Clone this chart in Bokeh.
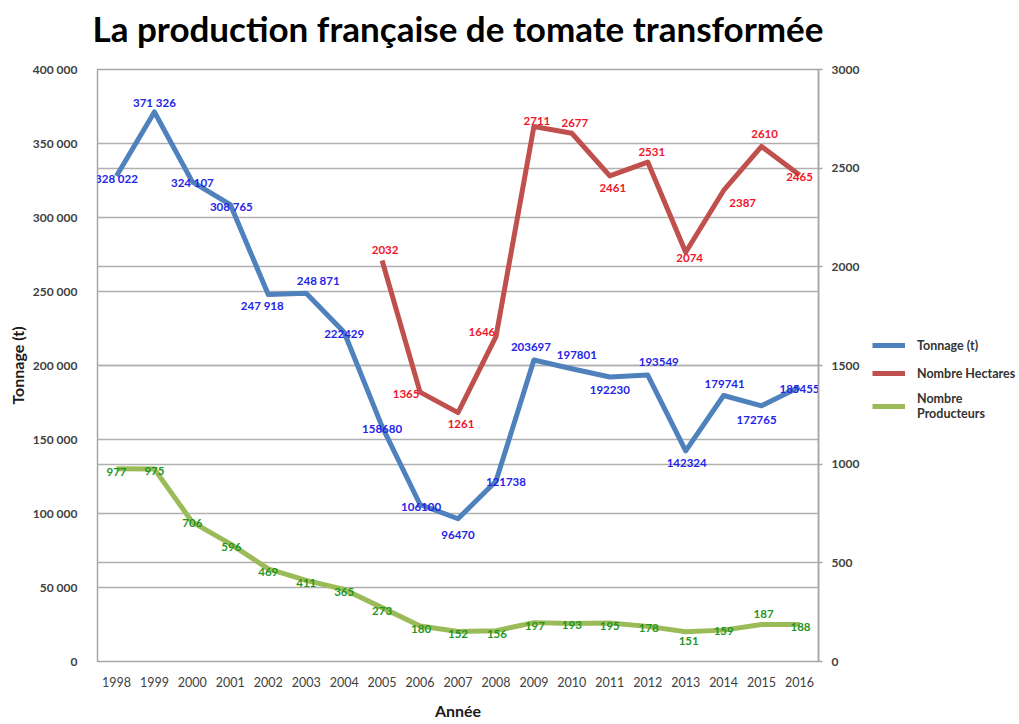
from bokeh.plotting import figure
from bokeh.layouts import row
from bokeh.models import (Range1d, LinearAxis, FixedTicker, Grid, Legend, LegendItem,
                          ColumnDataSource, Title)
from bokeh.core.properties import value
from bokeh.embed import file_html
from bokeh.resources import INLINE

# ---------------- data ----------------
years = [1998, 1999, 2000, 2001, 2002, 2003, 2004, 2005, 2006, 2007,
         2008, 2009, 2010, 2011, 2012, 2013, 2014, 2015, 2016]
tonnage = [328022, 371326, 324107, 308765, 247918, 248871, 222429, 158680, 106100, 96470,
           121738, 203697, 197801, 192230, 193549, 142324, 179741, 172765, 185455]
tonnage_labels = ["328 022", "371 326", "324 107", "308 765", "247 918", "248 871", "222429",
                  "158680", "106100", "96470", "121738", "203697", "197801", "192230",
                  "193549", "142324", "179741", "172765", "185455"]
hectare_years = [2005, 2006, 2007, 2008, 2009, 2010, 2011, 2012, 2013, 2014, 2015, 2016]
hectares = [2032, 1365, 1261, 1646, 2711, 2677, 2461, 2531, 2074, 2387, 2610, 2465]
producteurs = [977, 975, 706, 596, 469, 411, 365, 273, 180, 152,
               156, 197, 193, 195, 178, 151, 159, 187, 188]

left_ticks = [0, 50000, 100000, 150000, 200000, 250000, 300000, 350000, 400000]
left_tick_labels = ["0", "50 000", "100 000", "150 000", "200 000", "250 000",
                    "300 000", "350 000", "400 000"]
right_ticks = [0, 500, 1000, 1500, 2000, 2500, 3000]
series_names = ["Tonnage (t)", "Nombre Hectares", "Nombre\nProducteurs"]
title_text = "La production française de tomate transformée"

# label nudges (screen px)
ton_dx = [0, 0, 0, 1, -6, 12, 0, 0, 1, 0, 10, -3, 5, 0, 11, 1, 1, -5, 0]
ton_dy = [2, -9, 1, 2, 11, -13, 2, 2, 3, 16, 1, -13, -14, 13, -13, 12, -11, 14, 2]
hec_dx = [3, -14, 3, -14, 3, 3, 3, 4, 4, 19, 3, 0]
hec_dy = [-11, 2, 11, -5, -6, -10, 12, -10, 6, 13, -12, 2]
pro_dx = [0, 0, 0, 1, 0, 0, 0, 0, 1, 0, 1, 1, 0, 0, 1, 3, 0, 2, 1]
pro_dy = [3, 2, 1, 3, 3, 3, 3, 3, 3, 2, 3, 3, 2, 3, 2, 9, 1, -11, 3]

BLUE, RED, GREEN = "#4F81BD", "#C0504D", "#9BBB59"
BLUE_T, RED_T, GREEN_T = "#2424E8", "#F0152A", "#1F961F"
FONT = "Lato"

W_MAIN, H = 868, 724
p = figure(width=W_MAIN, height=H, output_backend="svg", toolbar_location=None,
           x_range=Range1d(1997.5, 2016.5), y_range=Range1d(0, 400000),
           min_border_left=97, min_border_right=50, min_border_top=69, min_border_bottom=63)

# title: a thin spacer next to the frame, then the real title above it
p.title = None
p.add_layout(Title(text=" ", text_font_size="1px", standoff=18), "above")
p.add_layout(Title(text=title_text, text_font=FONT, text_font_size="35px",
                   text_font_style="bold", text_color="#000000", align="center",
                   standoff=0), "above")

p.extra_y_ranges = {"right": Range1d(0, 3000)}

p.outline_line_color = "#A6A6A6"
p.outline_line_width = 1.5
p.background_fill_color = "white"
p.border_fill_color = "white"

# grids
p.xgrid.visible = False
p.ygrid.ticker = FixedTicker(ticks=left_ticks)
p.ygrid.grid_line_color = "#B0B0B0"
p.ygrid.grid_line_width = 1.5
rgrid = Grid(dimension=1, ticker=FixedTicker(ticks=right_ticks), y_range_name="right",
             grid_line_color="#B0B0B0", grid_line_width=1.5)
p.add_layout(rgrid)

# x axis
xa = p.xaxis[0]
xa.ticker = FixedTicker(ticks=years)
xa.axis_line_color = None
xa.major_tick_line_color = None
xa.minor_tick_line_color = None
xa.major_label_standoff = 9
xa.major_label_text_font = FONT
xa.major_label_text_font_size = "12.5px"
xa.major_label_text_color = "#404040"
xa.axis_label = "Année"
xa.axis_label_text_font = FONT
xa.axis_label_text_font_size = "16px"
xa.axis_label_text_font_style = "bold"
xa.axis_label_text_color = "#1A1A1A"
xa.axis_label_standoff = 11

# left axis
ya = p.yaxis[0]
ya.ticker = FixedTicker(ticks=left_ticks)
ya.major_label_overrides = {t: l for t, l in zip(left_ticks, left_tick_labels)}
ya.axis_line_color = None
ya.major_tick_line_color = None
ya.minor_tick_line_color = None
ya.major_label_standoff = 14
ya.major_label_text_font = FONT
ya.major_label_text_font_size = "12px"
ya.major_label_text_font_style = "bold"
ya.major_label_text_color = "#404040"
ya.axis_label = "Tonnage (t)"
ya.axis_label_text_font = FONT
ya.axis_label_text_font_size = "16px"
ya.axis_label_text_font_style = "bold"
ya.axis_label_text_color = "#1A1A1A"
ya.axis_label_standoff = 3

# right axis
ra = LinearAxis(y_range_name="right", ticker=FixedTicker(ticks=right_ticks))
ra.axis_line_color = "#A6A6A6"
ra.axis_line_width = 1.5
ra.major_tick_line_color = "#A6A6A6"
ra.major_tick_line_width = 1.5
ra.major_tick_in = 0
ra.major_tick_out = 4
ra.minor_tick_line_color = None
ra.major_label_standoff = 9
ra.major_label_text_font = FONT
ra.major_label_text_font_size = "12px"
ra.major_label_text_font_style = "bold"
ra.major_label_text_color = "#404040"
p.add_layout(ra, "right")

# lines
p.line(years, tonnage, line_color=BLUE, line_width=5, line_join="round")
p.line(hectare_years, hectares, line_color=RED, line_width=5, line_join="round",
       y_range_name="right")
p.line(years, producteurs, line_color=GREEN, line_width=5, line_join="round",
       y_range_name="right")

# data labels
src_t = ColumnDataSource(dict(x=years, y=tonnage, t=tonnage_labels, dx=ton_dx, dy=ton_dy))
p.text(x="x", y="y", text="t", x_offset="dx", y_offset="dy", source=src_t,
       text_align="center", text_baseline="middle", text_font=value(FONT),
       text_font_size="11.5px", text_font_style="bold", text_color=BLUE_T)
src_h = ColumnDataSource(dict(x=hectare_years, y=hectares, t=[str(v) for v in hectares],
                              dx=hec_dx, dy=hec_dy))
p.text(x="x", y="y", text="t", x_offset="dx", y_offset="dy", source=src_h,
       y_range_name="right",
       text_align="center", text_baseline="middle", text_font=value(FONT),
       text_font_size="11.5px", text_font_style="bold", text_color=RED_T)
src_p = ColumnDataSource(dict(x=years, y=producteurs, t=[str(v) for v in producteurs],
                              dx=pro_dx, dy=pro_dy))
p.text(x="x", y="y", text="t", x_offset="dx", y_offset="dy", source=src_p,
       y_range_name="right",
       text_align="center", text_baseline="middle", text_font=value(FONT),
       text_font_size="11.5px", text_font_style="bold", text_color=GREEN_T)

# legend panel (separate figure to the right); its lines lie outside its view
pl = figure(width=151, height=H, output_backend="svg", toolbar_location=None,
            x_axis_type=None, y_axis_type=None, x_range=Range1d(0, 1), y_range=Range1d(0, 1),
            min_border=0)
pl.outline_line_color = None
pl.xgrid.visible = False
pl.ygrid.visible = False
lr = [pl.line(years, tonnage, line_color=BLUE, line_width=5),
      pl.line(hectare_years, hectares, line_color=RED, line_width=5),
      pl.line(years, producteurs, line_color=GREEN, line_width=5)]
legend = Legend(items=[LegendItem(label=n, renderers=[r]) for n, r in zip(series_names, lr)],
                location=(4, 240), orientation="vertical")
legend.glyph_width = 33
legend.glyph_height = 20
legend.label_standoff = 12
legend.label_text_font = FONT
legend.label_text_font_size = "12.5px"
legend.label_text_font_style = "bold"
legend.label_text_color = "#333333"
legend.label_text_line_height = 1.25
legend.spacing = 8
legend.padding = 0
legend.margin = 0
legend.border_line_color = None
legend.background_fill_alpha = 0
pl.add_layout(legend)

layout = row(p, pl)
open("out.html", "w").write(file_html(layout, INLINE))
